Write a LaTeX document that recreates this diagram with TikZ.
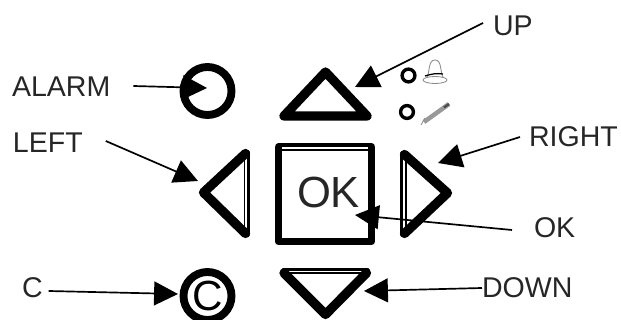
\documentclass[tikz,border=0pt]{standalone}
\usepackage{fontspec}
\setmainfont{Liberation Sans}
\usetikzlibrary{arrows.meta}

\begin{document}
\begin{tikzpicture}[x=0.025cm,y=-0.025cm,
    every node/.style={inner sep=0pt,outer sep=0pt,text=black!85},
    keyline/.style={line width=6.6pt,line cap=round,line join=round},
    ringkey/.style={circle,draw,line width=5.6pt,minimum size=1.2cm},
    thinedge/.style={line width=1.3pt,line cap=round},
    thickedge/.style={line width=2.4pt,line cap=round},
    pointer/.style={line width=1.2pt,-{Triangle[length=17pt,width=17pt]}},
    keylabel/.style={anchor=west,font=\fontsize{20.3}{24}\selectfont},
    ledring/.style={circle,draw,line width=2.4pt,minimum size=0.32cm},
    iconline/.style={line width=0.6pt,black!45}]
  \useasboundingbox (0,0) rectangle (621,320);
  % round keys on the left
  \node[ringkey] (alarmkey) at (207.5,91) {};
  \node[ringkey,text=black,font=\fontsize{30}{30}\selectfont] (ckey) at (207.5,296) {C};
  % up key
  \draw[keyline] (284,116) -- (325.5,72) -- (367,116) -- cycle;
  % left key with double edge
  \draw[keyline] (245.5,153.5) -- (203.5,192.5) -- (245.5,233.5);
  \draw[thickedge] (248.5,152) -- (248.5,235);
  \draw[thinedge] (244.5,152) -- (244.5,235);
  % ok key
  \draw[line width=5.2pt,line join=round] (278.5,147) rectangle (371.5,241.5);
  \draw[white,line width=1pt] (282,148.2) -- (368,148.2);
  \node[font=\fontsize{31}{31}\selectfont] (oktext) at (328.5,192) {OK};
  % right key with double edge
  \draw[keyline] (404.5,154.5) -- (447.5,193) -- (404.5,233.5);
  \draw[thickedge] (401.5,153) -- (401.5,235);
  \draw[thinedge] (406,153) -- (406,235);
  % down key with double edge
  \draw[keyline] (284,273) -- (325.5,314.5) -- (366.5,273);
  \draw[thickedge] (283,269.5) -- (368,269.5);
  \draw[thinedge] (283,273.3) -- (368,273.3);
  % indicator lamps
  \node[ledring] (bellled) at (408.5,75.5) {};
  \node[ledring] (penled) at (407,112) {};
  % bell
  \draw[iconline] (427,77) .. controls (430,72) and (428,60) .. (435,60)
       .. controls (442,60) and (440,72) .. (443,77);
  \draw[iconline] (435,80) ellipse [x radius=12,y radius=3.5];
  \draw[line width=0.9pt] (425,76) .. controls (431,74) and (437,73) .. (443,74);
  % pencil
  \draw[iconline,line width=3.2pt,black!40] (424,122) -- (449,104);
  \draw[line width=1.6pt,black!70] (444,107.5) -- (449,104);
  \draw[iconline] (421,125) -- (425,118);
  % labels
  \node[keylabel] (alarmlabel) at (12,87) {ALARM};
  \node[keylabel] (leftlabel) at (13,143) {LEFT};
  \node[keylabel] (clabel) at (22,288) {C};
  \node[keylabel] (uplabel) at (493,26) {UP};
  \node[keylabel] (rightlabel) at (529,137) {RIGHT};
  \node[keylabel] (oklabel) at (534,228) {OK};
  \node[keylabel] (downlabel) at (482,288) {DOWN};
  % arrow ends
  \coordinate (alarmtip) at (207,88);
  \coordinate (lefttip) at (198,181);
  \coordinate (ctip) at (178,294);
  \coordinate (uptip) at (355,87);
  \coordinate (righttip) at (438,163);
  \coordinate (oktip) at (355,215);
  \coordinate (downtip) at (364,291);
  % arrows
  \draw[pointer] ([shift={(23,-1)}]alarmlabel.east) -- (alarmtip);
  \draw[pointer] ([shift={(23,-2)}]leftlabel.east) -- (lefttip);
  \draw[pointer] ([shift={(6,3)}]clabel.east) -- (ctip);
  \draw[pointer] ([shift={(-10,-3)}]uplabel.west) -- (uptip);
  \draw[pointer] ([shift={(-9,0)}]rightlabel.west) -- (righttip);
  \draw[pointer] ([shift={(-22,2)}]oklabel.west) -- (oktip);
  \draw[pointer] (downlabel.west) -- (downtip);
\end{tikzpicture}
\end{document}
